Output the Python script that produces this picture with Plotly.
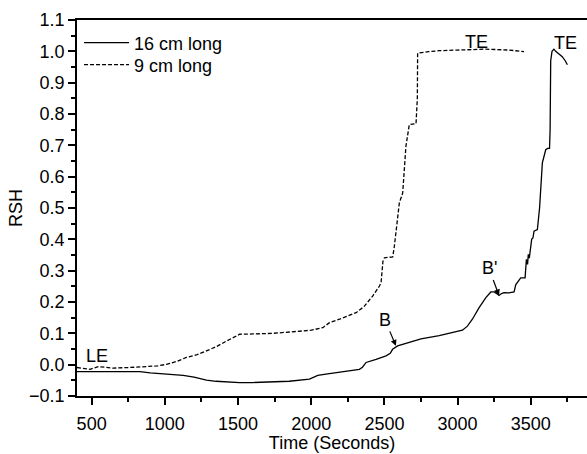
import plotly.graph_objects as go

# 16 cm long (solid)
x16 = [400, 500, 600, 700, 830, 900, 1010, 1125, 1200, 1250, 1284, 1350, 1420, 1511, 1600,
       1738, 1850, 1988, 2045, 2100, 2193, 2250, 2329, 2350, 2375, 2443, 2511, 2540,
       2556, 2590, 2670, 2750, 2874, 2950, 3033, 3067, 3101, 3147, 3193, 3227, 3250,
       3270, 3283, 3300, 3317, 3350, 3386, 3397, 3410, 3431, 3461, 3470, 3478, 3483,
       3490, 3506, 3515, 3522, 3545, 3560, 3579, 3602, 3615, 3628, 3632, 3636, 3645,
       3658, 3670, 3690, 3715, 3735, 3750]
y16 = [-0.022, -0.021, -0.022, -0.022, -0.022, -0.026, -0.031, -0.034, -0.040, -0.045, -0.049,
       -0.053, -0.055, -0.057, -0.057, -0.054, -0.053, -0.046, -0.034, -0.030, -0.023,
       -0.020, -0.015, -0.008, 0.007, 0.017, 0.028, 0.036, 0.049, 0.060, 0.072, 0.082,
       0.093, 0.100, 0.110, 0.123, 0.145, 0.182, 0.214, 0.232, 0.232, 0.226, 0.221,
       0.227, 0.230, 0.229, 0.232, 0.255, 0.265, 0.277, 0.277, 0.336, 0.320, 0.352,
       0.340, 0.400, 0.405, 0.426, 0.431, 0.500, 0.644, 0.686, 0.690, 0.690, 0.750,
       0.970, 1.000, 1.007, 1.000, 0.992, 0.983, 0.970, 0.957]

# 9 cm long (dashed)
x9 = [400, 450, 489, 545, 600, 647, 760, 875, 950, 1011, 1080, 1147, 1220, 1284, 1350,
      1420, 1488, 1511, 1600, 1738, 1900, 2000, 2079, 2125, 2193, 2250, 2307, 2360, 2420,
      2466, 2477, 2490, 2500, 2557, 2568, 2602, 2625, 2643, 2647, 2670, 2716, 2725, 2727,
      2800, 2874, 3000, 3193, 3352, 3454]
y9 = [-0.009, -0.012, -0.015, -0.006, -0.009, -0.011, -0.009, -0.007, -0.004, 0.001,
      0.010, 0.023, 0.032, 0.044, 0.057, 0.075, 0.091, 0.097, 0.098, 0.100, 0.106, 0.110,
      0.118, 0.134, 0.145, 0.155, 0.166, 0.185, 0.219, 0.251, 0.261, 0.330, 0.341, 0.344,
      0.378, 0.516, 0.548, 0.670, 0.697, 0.766, 0.769, 0.850, 0.994, 0.999, 1.002, 1.004,
      1.007, 1.004, 0.999]

series_names = ["16 cm long", "9 cm long"]
x_ticks = [500, 1000, 1500, 2000, 2500, 3000, 3500]
y_ticks = [-0.1, 0.0, 0.1, 0.2, 0.3, 0.4, 0.5, 0.6, 0.7, 0.8, 0.9, 1.0, 1.1]

FONT = "Liberation Sans, Arial, sans-serif"
FS = 18

fig = go.Figure()
fig.add_trace(go.Scatter(x=x16, y=y16, mode="lines", name=series_names[0],
                         legend="legend",
                         line=dict(color="black", width=1.3)))
fig.add_trace(go.Scatter(x=x9, y=y9, mode="lines", name=series_names[1],
                         legend="legend2",
                         line=dict(color="black", width=1.3, dash="4px,2px")))

ann_font = dict(family=FONT, size=FS, color="black")
fig.add_annotation(x=540, y=0.028, text="LE", showarrow=False, font=ann_font)
fig.add_annotation(x=3130, y=1.031, text="TE", showarrow=False, font=ann_font)
fig.add_annotation(x=3740, y=1.026, text="TE", showarrow=False, font=ann_font)
fig.add_annotation(x=2579, y=0.060, text="B", showarrow=True, ax=-11, ay=-26,
                   arrowhead=2, arrowsize=1, arrowwidth=1.2, arrowcolor="black",
                   font=ann_font)
fig.add_annotation(x=3283, y=0.221, text="B'", showarrow=True, ax=-10, ay=-27,
                   arrowhead=2, arrowsize=1, arrowwidth=1.2, arrowcolor="black",
                   font=ann_font)

leg_common = dict(xanchor="left", yanchor="middle", bgcolor="rgba(0,0,0,0)",
                  font=dict(family=FONT, size=FS), itemwidth=45)

fig.update_layout(
    width=587, height=454,
    margin=dict(l=77, r=0, t=20, b=58),
    paper_bgcolor="white", plot_bgcolor="white",
    font=dict(family=FONT, size=FS, color="black"),
    showlegend=True,
    legend=dict(x=0.004, y=0.9388, **leg_common),
    legend2=dict(x=0.004, y=0.8803, **leg_common),
    xaxis=dict(range=[400, 3884], tickvals=x_ticks, ticks="outside", ticklen=7,
               tickwidth=1.5, tickcolor="black", showline=True, linewidth=1.8,
               linecolor="black", mirror=True, showgrid=False, zeroline=False,
               ticklabelstandoff=3,
               minor=dict(dtick=250, ticks="outside", ticklen=4, tickwidth=1.5,
                          tickcolor="black", showgrid=False),
               title=dict(text="Time (Seconds)", standoff=2,
                          font=dict(family=FONT, size=FS))),
    yaxis=dict(range=[-0.1, 1.1], tickvals=y_ticks, tickformat=".1f", ticks="outside",
               ticklen=7, tickwidth=1.5, tickcolor="black", showline=True,
               linewidth=1.8, linecolor="black", mirror=False, showgrid=False,
               zeroline=False,
               minor=dict(dtick=0.05, tick0=0, ticks="outside", ticklen=4,
                          tickwidth=1.5, tickcolor="black", showgrid=False),
               title=dict(text="RSH", standoff=2, font=dict(family=FONT, size=FS))),
)

fig.write_html("out.html")
